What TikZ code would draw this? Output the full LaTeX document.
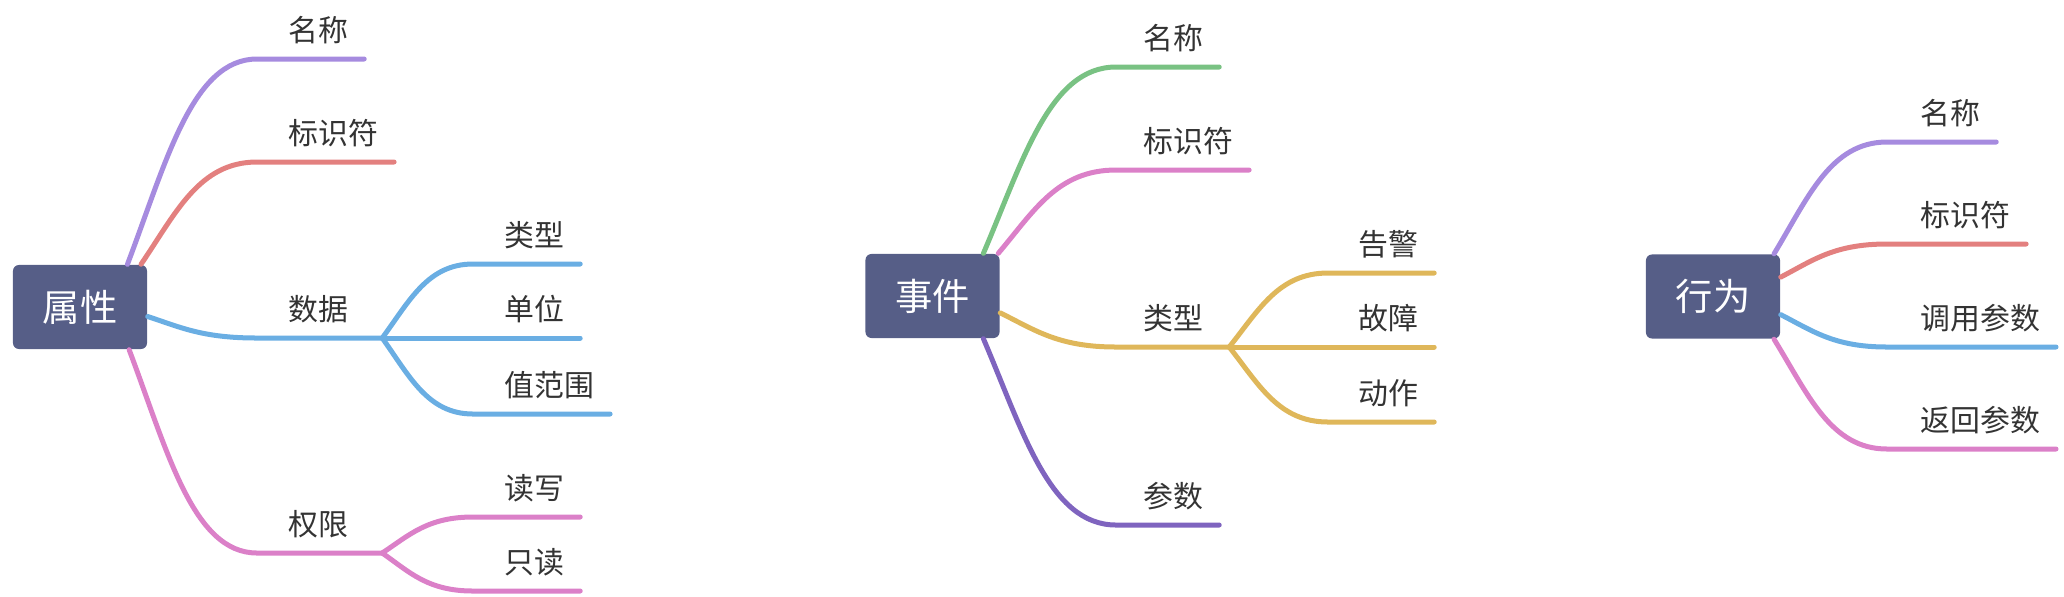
\documentclass[tikz,border=0pt]{standalone}
\usepackage{fontspec}
\usepackage{tikz}
\usetikzlibrary{calc}
\newfontfamily\cjk{Noto Sans CJK SC}
\definecolor{topicbg}{HTML}{565E87}
\definecolor{txt}{HTML}{333333}
\definecolor{cpurple}{HTML}{A68BDF}
\definecolor{cred}{HTML}{E3807F}
\definecolor{cblue}{HTML}{6AAEE3}
\definecolor{cpink}{HTML}{DB80C8}
\definecolor{cgreen}{HTML}{79C283}
\definecolor{cgold}{HTML}{DFB75A}
\definecolor{cviolet}{HTML}{7F64BF}
\newcommand{\leaffont}{\cjk\fontsize{8.5pt}{10pt}\selectfont}
\newcommand{\rootfont}{\cjk\fontsize{10.6pt}{12pt}\selectfont}

\begin{document}
\begin{tikzpicture}[x=0.01cm,y=-0.01cm,
  root/.style={rounded corners=0.06cm,fill=topicbg,text=white,font=\rootfont,
    minimum width=1.34cm,minimum height=0.84cm,inner sep=0pt},
  leaf/.style={anchor=south west,inner xsep=0.15cm,inner ysep=0.17cm,
    text depth=0pt,font=\leaffont,text=txt},
  br/.style={line width=0.05cm,line cap=round,line join=round},
  curvy/.style={to path={let \p1=(\tikztostart),\p2=(\tikztotarget) in
    .. controls ({0.7*\x1+0.3*\x2},{0.5*\y1+0.5*\y2}) and ({0.5*\x1+0.5*\x2},\y2) .. (\tikztotarget) \tikztonodes}}]
\useasboundingbox (0,0) rectangle (2064,596);

\node[root] (p) at (80,307) {属性};
\node[leaf] (p1) at (273,59) {名称};
\node[leaf] (p2) at (273,162) {标识符};
\node[leaf] (p3) at (273,338) {数据};
\node[leaf] (p4) at (273,553) {权限};
\node[leaf] (p31) at (489,264) {类型};
\node[leaf] (p32) at (489,338) {单位};
\node[leaf] (p33) at (489,414) {值范围};
\node[leaf] (p41) at (489,517) {读写};
\node[leaf] (p42) at (489,591) {只读};
\draw[br,cpurple] (p.42) to[curvy] ([xshift=-0.16cm]p1.south west) -- (p1.south east);
\draw[br,cred] (p.35) to[curvy] ([xshift=-0.16cm]p2.south west) -- (p2.south east);
\draw[br,cblue] (p.-8) to[curvy] ([xshift=-0.16cm]p3.south west) -- ([xshift=0.18cm]p3.south east);
\draw[br,cpink] (p.-41) to[curvy] ([xshift=-0.16cm]p4.south west) -- ([xshift=0.18cm]p4.south east);
\draw[br,cblue] ([xshift=0.18cm]p3.south east) to[curvy] ([xshift=-0.16cm]p31.south west) -- (p31.south east);
\draw[br,cblue] ([xshift=0.18cm]p3.south east) to[curvy] ([xshift=-0.16cm]p32.south west) -- (p32.south east);
\draw[br,cblue] ([xshift=0.18cm]p3.south east) to[curvy] ([xshift=-0.16cm]p33.south west) -- (p33.south east);
\draw[br,cpink] ([xshift=0.18cm]p4.south east) to[curvy] ([xshift=-0.16cm]p41.south west) -- (p41.south east);
\draw[br,cpink] ([xshift=0.18cm]p4.south east) to[curvy] ([xshift=-0.16cm]p42.south west) -- (p42.south east);

\node[root] (e) at (932.5,296) {事件};
\node[leaf] (e1) at (1128,67) {名称};
\node[leaf] (e2) at (1128,170) {标识符};
\node[leaf] (e3) at (1128,347) {类型};
\node[leaf] (e4) at (1128,525) {参数};
\node[leaf] (e31) at (1343,273) {告警};
\node[leaf] (e32) at (1343,347) {故障};
\node[leaf] (e33) at (1343,422) {动作};
\draw[br,cgreen] (e.40) to[curvy] ([xshift=-0.12cm]e1.south west) -- (e1.south east);
\draw[br,cpink] (e.33) to[curvy] ([xshift=-0.12cm]e2.south west) -- (e2.south east);
\draw[br,cgold] (e.-14) to[curvy] ([xshift=-0.12cm]e3.south west) -- ([xshift=0.10cm]e3.south east);
\draw[br,cviolet] (e.-40) to[curvy] ([xshift=-0.12cm]e4.south west) -- (e4.south east);
\draw[br,cgold] ([xshift=0.10cm]e3.south east) to[curvy] ([xshift=-0.15cm]e31.south west) -- (e31.south east);
\draw[br,cgold] ([xshift=0.10cm]e3.south east) to[curvy] ([xshift=-0.15cm]e32.south west) -- (e32.south east);
\draw[br,cgold] ([xshift=0.10cm]e3.south east) to[curvy] ([xshift=-0.15cm]e33.south west) -- (e33.south east);

\node[root] (b) at (1713,296.5) {行为};
\node[leaf] (b1) at (1905,142) {名称};
\node[leaf] (b2) at (1905,244) {标识符};
\node[leaf] (b3) at (1905,347) {调用参数};
\node[leaf] (b4) at (1905,449) {返回参数};
\draw[br,cpurple] (b.35) to[curvy] ([xshift=-0.18cm]b1.south west) -- (b1.south east);
\draw[br,cred] (b.16) to[curvy] ([xshift=-0.18cm]b2.south west) -- (b2.south east);
\draw[br,cblue] (b.-15) to[curvy] ([xshift=-0.18cm]b3.south west) -- (b3.south east);
\draw[br,cpink] (b.-35) to[curvy] ([xshift=-0.18cm]b4.south west) -- (b4.south east);
\end{tikzpicture}
\end{document}
